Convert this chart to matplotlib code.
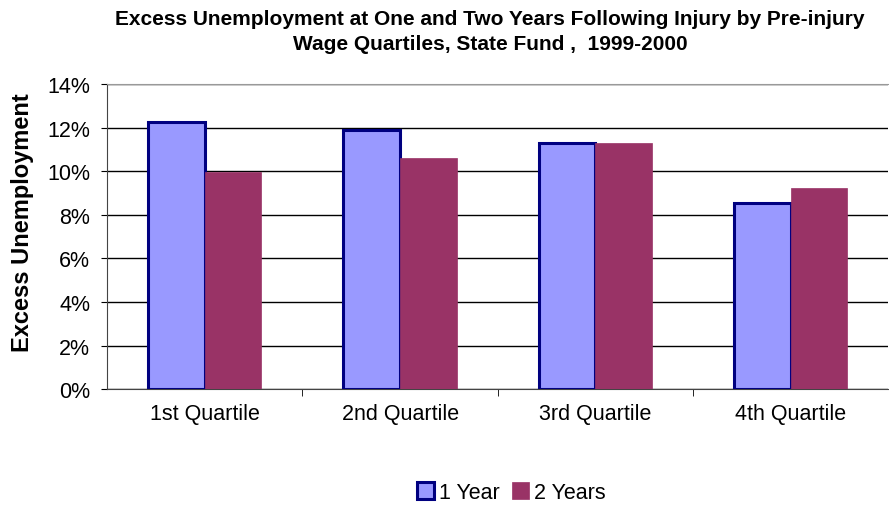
import matplotlib
matplotlib.use("Agg")
import matplotlib.pyplot as plt
import numpy as np

categories = ["1st Quartile", "2nd Quartile", "3rd Quartile", "4th Quartile"]
year1 = [12.25, 11.9, 11.3, 8.55]
year2 = [9.95, 10.6, 11.3, 9.25]
series_names = ["1 Year", "2 Years"]

plt.rcParams['font.family'] = ['Liberation Sans', 'DejaVu Sans']

fig = plt.figure(figsize=(8.89, 5.06), dpi=100)
ax = fig.add_axes([0.1204, 0.229, 0.879, 0.603])

x = np.arange(len(categories))
w = 0.29
ax.bar(x - w / 2, year1, w, color='#9999FF', edgecolor='#000080', linewidth=2.2,
       label=series_names[0], zorder=3)
ax.bar(x + w / 2, year2, w, color='#993366', edgecolor='#993366', linewidth=0.5,
       label=series_names[1], zorder=3)

ax.set_xlim(-0.5, len(categories) - 0.5)
ax.set_ylim(0, 14)
ax.set_yticks(np.arange(0, 15, 2))
ax.set_yticklabels([f"{v}%" for v in range(0, 15, 2)], fontsize=15.5)
ax.yaxis.grid(True, color='black', linewidth=1)
ax.set_axisbelow(True)

ax.set_xticks(x)
ax.set_xticklabels(categories, fontsize=15.5)
ax.tick_params(axis='x', length=0, pad=10)
ax.set_xticks(np.arange(0.5, len(categories) - 0.5, 1), minor=True)
ax.tick_params(axis='x', which='minor', length=5, color='black')
ax.tick_params(axis='y', length=4, color='black', pad=8)

ax.spines['right'].set_visible(False)
ax.spines['top'].set_color('#999999')
ax.spines['left'].set_color('#444444')
ax.spines['bottom'].set_color('#444444')

ax.set_ylabel("Excess Unemployment", fontsize=17, fontweight='bold')
ax.yaxis.set_label_coords(-0.093, 0.55)

fig.text(0.551, 0.937, "Excess Unemployment at One and Two Years Following Injury by Pre-injury\n"
         "Wage Quartiles, State Fund ,  1999-2000", ha='center', va='center',
         fontsize=15, fontweight='bold', linespacing=1.35)

fig.legend(loc='center', bbox_to_anchor=(0.575, 0.025), ncol=2, frameon=False,
           fontsize=15.5, handlelength=0.8, handleheight=0.8, handletextpad=0.2,
           columnspacing=0.6)

fig.savefig("out.png", dpi=100, facecolor='white')
